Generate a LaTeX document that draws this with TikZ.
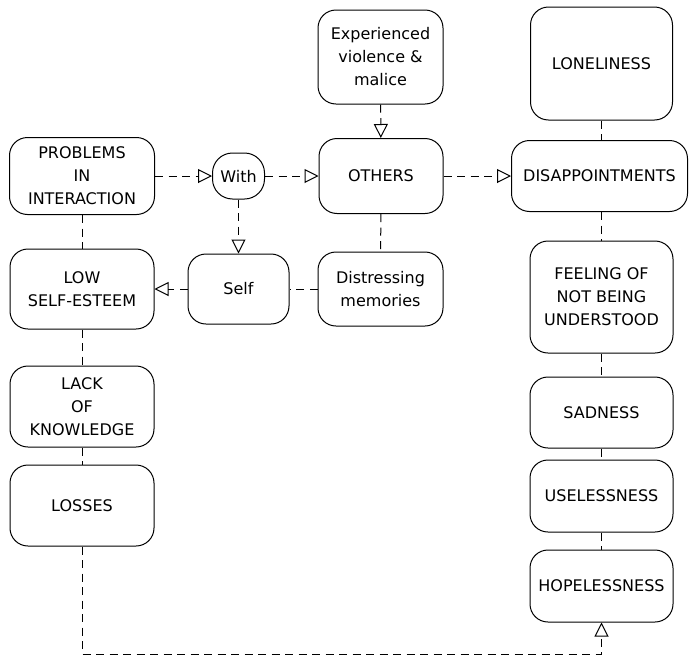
\documentclass[tikz,border=0pt]{standalone}
\usepackage{fontspec}
\setmainfont{DejaVu Sans}
\usetikzlibrary{arrows.meta}
\begin{document}
\begin{tikzpicture}[x=1pt,y=-1pt,
  box/.style={draw, line width=1pt, rounded corners=18pt, align=center, inner sep=0pt,
    font=\fontsize{16}{23}\selectfont},
  conn/.style={draw, line width=1pt, dash pattern=on 8pt off 5.5pt},
  arr/.style={conn, -{Triangle[open, length=14pt, width=14pt, line width=1pt]}}]
\useasboundingbox (0,0) rectangle (689,662);
% left column
\node[box, minimum width=145pt, minimum height=77pt] (prob) at (82,176) {PROBLEMS\\IN\\INTERACTION};
\node[box, minimum width=144pt, minimum height=80pt] (low) at (82,289) {LOW\\SELF-ESTEEM};
\node[box, minimum width=144pt, minimum height=81pt] (lack) at (82,406.5) {LACK\\OF\\KNOWLEDGE};
\node[box, minimum width=144pt, minimum height=81pt] (loss) at (82,505.5) {LOSSES};
% middle
\node[box, minimum width=52pt, minimum height=46pt, rounded corners=20pt] (with) at (238.5,176) {With};
\node[box, minimum width=101pt, minimum height=70pt] (self) at (238.5,289) {Self};
\node[box, minimum width=125pt, minimum height=94pt] (exp) at (380.5,57) {Experienced\\violence \&\\malice};
\node[box, minimum width=124pt, minimum height=75pt] (oth) at (381,176) {OTHERS};
\node[box, minimum width=125pt, minimum height=74pt] (dist) at (380.5,289) {Distressing\\memories};
% right column
\node[box, minimum width=142pt, minimum height=113pt] (lone) at (601.5,63.5) {LONELINESS};
\node[box, minimum width=176pt, minimum height=71pt] (disa) at (599.5,176) {DISAPPOINTMENTS};
\node[box, minimum width=143pt, minimum height=112pt] (feel) at (601.5,297) {FEELING OF\\NOT BEING\\UNDERSTOOD};
\node[box, minimum width=143pt, minimum height=71pt] (sad) at (601.5,412.5) {SADNESS};
\node[box, minimum width=143pt, minimum height=72pt] (use) at (601.5,496) {USELESSNESS};
\node[box, minimum width=143pt, minimum height=72pt] (hope) at (601.5,586) {HOPELESSNESS};
% route under the diagram
\coordinate (cl) at (82,654);
\coordinate (cr) at (601.5,654);
% arrows
\draw[arr] (prob) -- (with);
\draw[arr] (with) -- (oth);
\draw[arr] (oth) -- (disa.west |- oth);
\draw[arr] (exp) -- (oth);
\draw[arr] (with) -- (self);
\draw[arr] (self) -- (low);
\draw[arr] (loss) -- (cl) -- (cr) -- (hope);
% plain links
\draw[conn] (dist) -- (self);
\draw[conn] (oth) -- (dist);
\draw[conn] (prob) -- (low);
\draw[conn] (low) -- (lack);
\draw[conn] (lack) -- (loss);
\draw[conn] (lone) -- (lone |- disa.north);
\draw[conn] (lone |- disa.south) -- (feel);
\draw[conn] (feel) -- (sad);
\draw[conn] (sad) -- (use);
\draw[conn] (use) -- (hope);
\end{tikzpicture}
\end{document}
